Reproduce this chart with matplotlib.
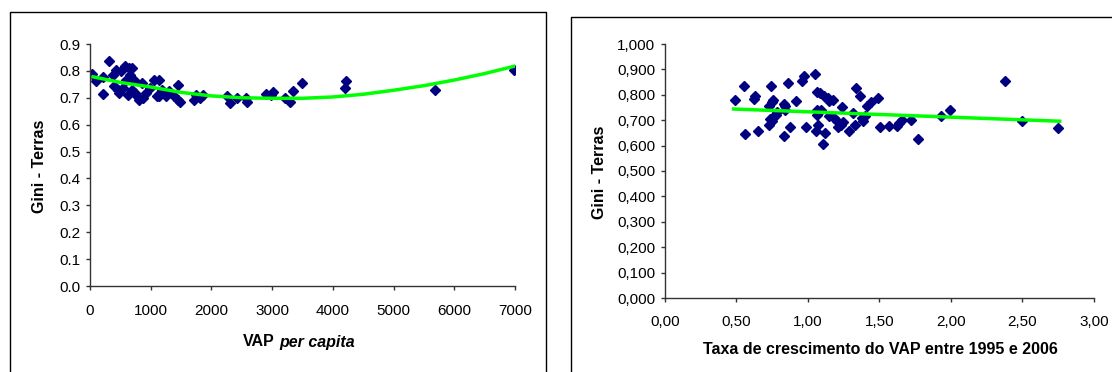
import matplotlib.pyplot as plt
from matplotlib.lines import Line2D
from matplotlib.ticker import FuncFormatter

plt.rcParams["font.family"] = ["Liberation Sans", "DejaVu Sans"]

# left panel: Gini (land) vs VAP per capita
vap_pc = [41, 100, 206, 206, 318, 383, 395, 424, 454, 483, 512, 542, 583, 601, 618,
          642, 660, 689, 689, 719, 736, 777, 807, 854, 866, 925, 983, 1054, 1101,
          1131, 1131, 1190, 1249, 1308, 1384, 1443, 1455, 1484, 1720, 1749, 1808,
          1867, 2250, 2309, 2427, 2562, 2586, 2898, 2986, 3016, 3204, 3293, 3351,
          3487, 4194, 4211, 5678, 6980]
gini_left = [0.787, 0.761, 0.777, 0.714, 0.838, 0.786, 0.742, 0.804, 0.730, 0.718,
             0.798, 0.736, 0.817, 0.767, 0.711, 0.811, 0.786, 0.811, 0.730, 0.767,
             0.718, 0.705, 0.693, 0.755, 0.699, 0.718, 0.736, 0.767, 0.705, 0.767,
             0.705, 0.730, 0.705, 0.724, 0.705, 0.749, 0.693, 0.686, 0.693, 0.711,
             0.699, 0.711, 0.705, 0.680, 0.699, 0.699, 0.686, 0.715, 0.711, 0.720,
             0.699, 0.686, 0.724, 0.755, 0.736, 0.761, 0.730, 0.802]
trend_left_x = [50, 500, 1000, 1500, 2000, 2500, 3000, 3500, 4000, 4500, 5000, 5500, 6000, 6500, 7000]
trend_left_y = [0.778, 0.757, 0.740, 0.720, 0.707, 0.700, 0.698, 0.698, 0.703, 0.713,
                0.728, 0.745, 0.766, 0.790, 0.818]

# right panel: Gini (land) vs VAP growth rate 1995-2006
growth = [0.487, 0.555, 0.560, 0.623, 0.630, 0.648, 0.728, 0.728, 0.743, 0.748, 0.758,
          0.736, 0.748, 0.761, 0.773, 0.786, 0.831, 0.836, 0.831, 0.841, 0.861, 0.873,
          0.919, 0.956, 0.969, 0.986, 1.049, 1.062, 1.062, 1.062, 1.054, 1.069, 1.087,
          1.094, 1.104, 1.112, 1.119, 1.137, 1.150, 1.150, 1.175, 1.182, 1.200, 1.212,
          1.230, 1.237, 1.245, 1.288, 1.313, 1.326, 1.338, 1.365, 1.376, 1.388, 1.401,
          1.413, 1.438, 1.488, 1.501, 1.564, 1.621, 1.639, 1.657, 1.722, 1.767, 1.933,
          1.993, 2.379, 2.500, 2.751]
gini_right = [0.781, 0.836, 0.646, 0.783, 0.794, 0.656, 0.757, 0.682, 0.836, 0.770, 0.781,
              0.705, 0.696, 0.715, 0.722, 0.731, 0.765, 0.755, 0.636, 0.741, 0.846, 0.672,
              0.777, 0.853, 0.875, 0.672, 0.883, 0.810, 0.741, 0.722, 0.656, 0.682, 0.807,
              0.741, 0.608, 0.794, 0.650, 0.787, 0.774, 0.715, 0.781, 0.709, 0.696, 0.673,
              0.682, 0.752, 0.692, 0.656, 0.728, 0.682, 0.827, 0.797, 0.709, 0.696, 0.715,
              0.755, 0.770, 0.787, 0.673, 0.678, 0.676, 0.689, 0.702, 0.699, 0.626, 0.718,
              0.739, 0.853, 0.696, 0.668]
trend_right_x = [0.48, 2.76]
trend_right_y = [0.744, 0.696]

W, H = 1112, 372
fig = plt.figure(figsize=(W / 100, H / 100), dpi=100)


def px_ax(x0, x1, y0, y1):
    return fig.add_axes([x0 / W, 1 - y1 / H, (x1 - x0) / W, (y1 - y0) / H])


def px_text(x, y, s, **kw):
    kw.setdefault("fontsize", 11.5)
    kw.setdefault("fontweight", "bold")
    return fig.text(x / W, 1 - y / H, s, va="center", **kw)


def style(ax):
    for s in ("top", "right"):
        ax.spines[s].set_visible(False)
    for s in ("left", "bottom"):
        ax.spines[s].set_color("#333333")
        ax.spines[s].set_linewidth(1.0)
    ax.tick_params(direction="out", length=3, width=1, color="#333333",
                   labelsize=11, pad=4)


navy = "#000080"
green = "#00ff00"

ax1 = px_ax(90, 515, 44, 286)
ax1.plot(vap_pc, gini_left, linestyle="none", marker="D", markersize=5.5,
         color=navy, zorder=2)
ax1.plot(trend_left_x, trend_left_y, color=green, linewidth=2.5, zorder=3)
ax1.set_xlim(0, 7000)
ax1.set_ylim(0, 0.9)
ax1.set_xticks(range(0, 7001, 1000))
ax1.set_yticks([i / 10 for i in range(10)])
ax1.yaxis.set_major_formatter(FuncFormatter(lambda v, p: f"{v:.1f}"))
style(ax1)
ax1.tick_params(axis="x", pad=10)
px_text(40, 166, "Gini - Terras", rotation=90, ha="center")
px_text(275, 342, "VAP", ha="right")
px_text(279, 342, "per capita", ha="left", style="italic")

ax2 = px_ax(665, 1094, 44, 298)
ax2.plot(growth, gini_right, linestyle="none", marker="D", markersize=5.5,
         color=navy, zorder=2)
ax2.plot(trend_right_x, trend_right_y, color=green, linewidth=2.5, zorder=3)
ax2.set_xlim(0, 3)
ax2.set_ylim(0, 1)
ax2.set_xticks([i / 2 for i in range(7)])
ax2.set_yticks([i / 10 for i in range(11)])
ax2.xaxis.set_major_formatter(FuncFormatter(lambda v, p: f"{v:.2f}".replace(".", ",")))
ax2.yaxis.set_major_formatter(FuncFormatter(lambda v, p: f"{v:.3f}".replace(".", ",")))
style(ax2)
ax2.tick_params(axis="x", pad=9)
px_text(599, 172, "Gini - Terras", rotation=90, ha="center")
px_text(880, 349, "Taxa de crescimento do VAP entre 1995 e 2006", ha="center")

# chart area frames
for xs, ys in (([10, 10, 546, 546], [H, 12, 12, H]),
               ([571, 571, W], [H, 17, 17])):
    fig.add_artist(Line2D([x / W for x in xs], [1 - y / H for y in ys],
                          color="black", linewidth=1.0, transform=fig.transFigure))

fig.savefig("out.png", dpi=100)
